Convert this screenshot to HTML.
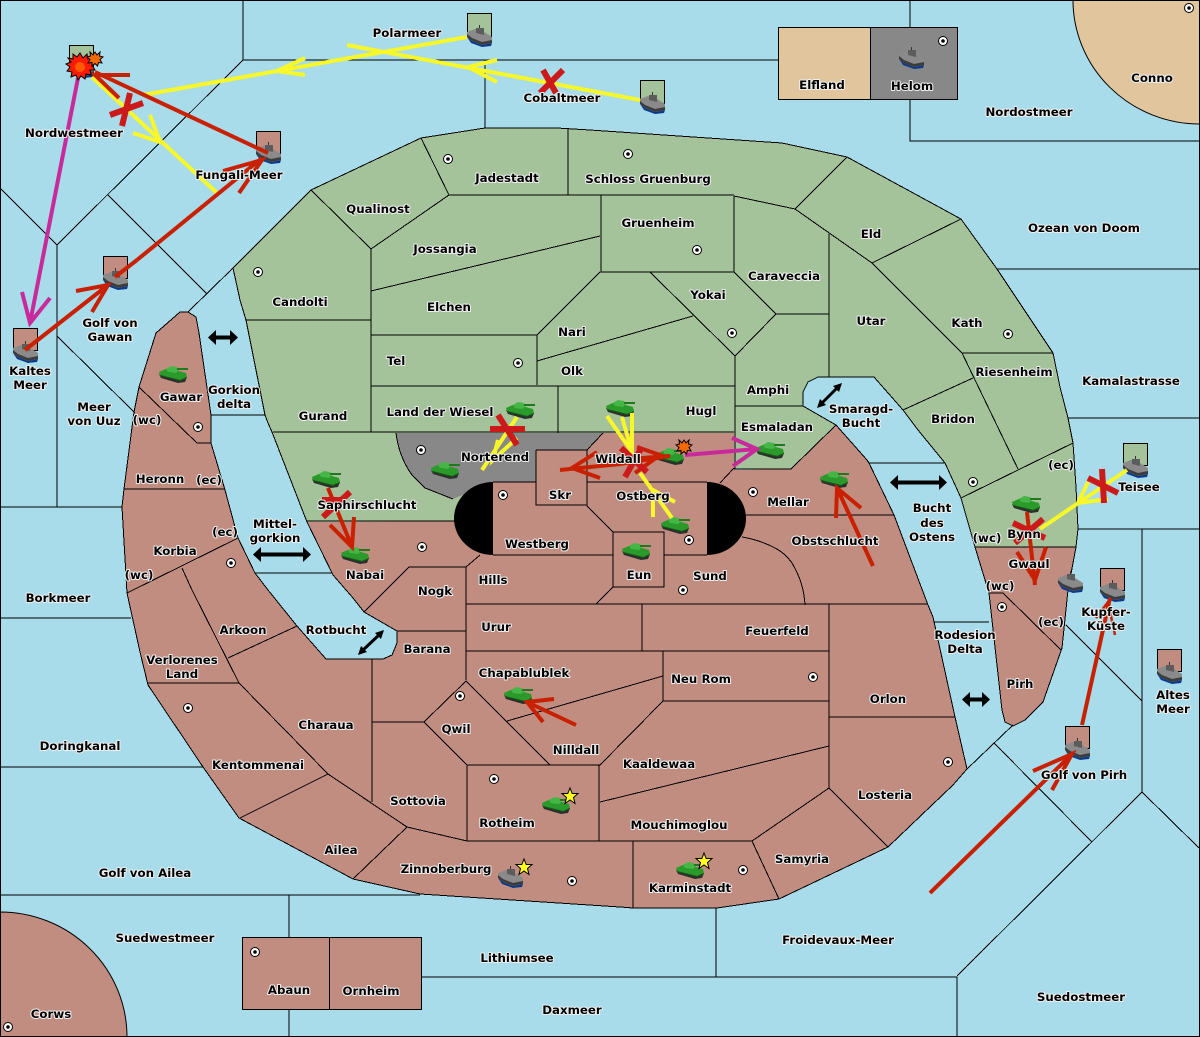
<!DOCTYPE html>
<html><head><meta charset="utf-8"><title>Map</title>
<style>
html,body{margin:0;padding:0;background:#a8dceb}
svg{display:block}
.b{fill:none;stroke:#000;stroke-width:1;shape-rendering:crispEdges}
.o{stroke:#000;stroke-width:1}
text{font-family:"DejaVu Sans","Liberation Sans",sans-serif;font-weight:bold;font-size:11.8px;text-anchor:middle;fill:#000;stroke:#f0f0f0;stroke-width:2px;paint-order:stroke;stroke-linejoin:round}
.y{stroke:#f7f72a;stroke-width:4;fill:none}
.r{stroke:#c82000;stroke-width:4;fill:none}
.m{stroke:#c82a9c;stroke-width:4;fill:none}
.x{stroke:#cc1a1a;stroke-width:6;fill:none}
.a{stroke:#000;stroke-width:3;fill:none}
.h{stroke:#000;stroke-width:4;fill:none}
</style></head><body>
<svg xmlns="http://www.w3.org/2000/svg" width="1200" height="1037" viewBox="0 0 1200 1037">
<defs>
<g id="tank"><path d="M0 8L2 12L19 17L26 16L28 11L21 13Z" fill="#2e2e2e"/><path d="M0 6L9 2L27 7L28 11L21 14L1 9Z" fill="#2a9a2a"/><path d="M7 3L12 0L18 1L20 4L17 7L9 6Z" fill="#45b545"/><path d="M18 2H29V4H18Z" fill="#1f7a1f"/><path d="M1 9L21 14L28 11V12L21 15L1 10Z" fill="#145a14"/></g>
<g id="ship"><path d="M12.500 0V6" stroke="#333" stroke-width="1" fill="none"/><path d="M0 12L5 16L15 20L25 18L24 21L15 22L4 18Z" fill="#0b3a8c"/><path d="M0 7L8 4L14 5L25 12L25 18L15 20L5 16L0 12Z" fill="#8a8a8a"/><path d="M0 9L5 13L15 17L25 15L25 18L15 20L5 16L0 12Z" fill="#3c3c3c"/><path d="M9 3H17V10L9 8Z" fill="#5c5c5c"/></g>
<g id="dot"><circle r="4.5" fill="#fff" stroke="#000" stroke-width="1"/><circle r="1.8" fill="#000"/></g>
<polygon id="star" points="0,-8 2.2,-2.5 8,-2.5 3.5,1.5 5,7.5 0,4 -5,7.5 -3.5,1.5 -8,-2.5 -2.2,-2.5" fill="#ffff20" stroke="#000" stroke-width="1"/>
<polygon id="blast" points="0,-7 2,-4 5,-7 4.5,-3 8,-2 5,0.5 7,4 3.5,3.5 2.5,7 0,4.5 -3,7 -3,3.5 -7,4 -5,0.5 -8,-2 -4.5,-3 -5,-7 -2,-4" fill="#f56a00" stroke="#000" stroke-width="1"/>
</defs>
<rect x="0" y="0" width="1200" height="1037" fill="#a8dceb"/>

<!-- land fills -->
<polygon fill="#c28d81" points="188,312 196,317 199,333 211,415 211,443 225,490 238,538 255,573 268,590 297,626 326,659 383,659 392,655 397,643 397,631 364,612 353,598 333,575 307,522 455,521 493,482 536,482 536,450 587,450 603,433 735,433 735,470 791,469 836,425 867,460 869,463 894,515 928,605 933,617 955,717 967,769 953,785 888,847 779,899 717,908 633,908 620,907 420,894 353,879 239,818 203,767 148,685 140,652 127,593 122,507 124,489 134,412 139,387 156,333 180,312"/>
<polygon fill="#c28d81" points="975,547 1076,547 1068,590 1062,648 1043,702 1025,720 1013,726 1005,722 1002,710 989,593 988,592"/>
<polygon fill="#a4c39a" points="233,268 311,190 421,138 485,128 557,128 590,130 782,143 847,157 961,219 997,269 1053,353 1060,387 1068,418 1073,443 1076,487 1078,529 1076,547 975,547 961,498 945,463 918,430 903,410 874,377 818,377 808,382 803,392 803,406 836,425 791,469 734,469 734,433 603,433 587,450 536,450 536,482 493,482 493,521 307,522 272,432 268,423 265,415 246,320 240,300"/>
<path fill="#888888" d="M396,433H603L587,450H536V482H493L453,499L425,488L412,475Q399,457 396,433Z"/>
<path fill="#e0c59d" stroke="#000" stroke-width="1" d="M1073,0A127,124 0 0 0 1200,124V0Z"/>
<path fill="#c28d81" stroke="#000" stroke-width="1" d="M0,912A127,125 0 0 1 127,1037H0Z"/>
<rect x="778.5" y="27.5" width="92" height="72" class="b" style="fill:#e0c59d"/>
<rect x="870.5" y="27.5" width="87" height="72" class="b" style="fill:#888888"/>
<rect x="242.5" y="937.5" width="87" height="72" class="b" style="fill:#c28d81"/>
<rect x="329.5" y="937.5" width="92" height="72" class="b" style="fill:#c28d81"/>

<!-- borders -->
<g fill="none" stroke="#000" stroke-width="1" shape-rendering="crispEdges">
<polyline points="188,312 196,317 199,333 211,415 211,443 225,490 238,538 255,573 268,590 297,626 326,659 383,659 392,655 397,643 397,631 364,612 353,598 333,575 307,522 272,432 268,423 265,415 246,320 240,300 233,268 311,190 421,138 485,128 557,128 590,130 782,143 847,157 961,219 997,269 1053,353 1060,387 1068,418 1073,443 1076,487 1078,529 1076,547 1068,590 1062,648 1043,702 1025,720 1013,726 1005,722 1002,710 989,593 975,547 961,498 945,463 918,430 903,410 874,377 818,377 808,382 803,392 803,406 836,425 867,460 869,463 894,515 928,605 933,617 955,717 967,769 953,785 888,847 779,899 717,908 633,908 620,907 420,894 353,879 239,818 203,767 148,685 140,652 127,593 122,507 124,489 134,412 139,387 156,333 180,312 188,312"/>
<path d="M396,433Q399,457 412,475L425,488L453,499"/>
<path d="M742,537Q760,540 775,548Q785,553 792,563Q804,583 805,605"/>
<path d="M243,0V60L57,245V507M243,60H778M485,60V128M910,0V27M910,99V141H1200M0,188L57,245M108,195L207,294M233,268L188,312M57,336L135,413M0,507H122M0,618H131M0,767H203M0,895H420M289,895V937M289,1009V1037M422,977H957V1037M957,976L1142,792L1199,848M1142,529V792M1078,529H1200M1066,625L1142,701M1013,725L967,769M994,743L1092,842M716,908V977M997,269H1200M1068,418H1200M211,415H265M255,573H332M869,463H945M934,622H989"/>
<path d="M311,190L371,249L449,195L421,138M449,195H734M568,129V195M734,196L795,209L847,157M795,209L872,263L961,219M872,263L962,353H1053M962,353L1018,469M973,378L903,410M1073,443L961,498M829,234V377M776,314H829M734,196V272L776,314L735,356V469M601,195V272H734M650,272L735,356M537,361L693,316M600,272L537,335H371M537,335V385M371,386H735M558,386V433M371,291L600,236M371,249V432M246,320H371M273,432H734M735,406H803M307,521H455M734,469H791L836,425M603,433L587,450"/>
<path d="M493,482H536M587,482H707M536,450H587V505H536V450M587,506L613,532H664V587H613V532M493,555H613M664,555H707M480,555L466,567V680M409,567H466M409,567L364,612M613,587L596,604M466,604H928M642,604V651M466,651H829M397,631H466M746,515H894M663,651V701H829M663,701L599,766M829,604V788M829,717H955M829,746L600,802M467,765H599V841M467,765V841M467,841H752M752,841L829,788L888,847M752,841L779,899M633,841V908M507,721L663,676M466,681L550,765M466,681L424,722L467,765M372,722H424M372,659V802M239,683L328,774L407,827L467,841M328,774L240,818M407,827L353,879M148,683H239M192,590L239,683M182,568L192,590M127,593L238,538M228,658L297,626M124,489H225M139,387L197,443H211M720,483L734,468M989,593H1003L1061,650M975,547H1076"/>
</g>
<rect x="0.5" y="0.5" width="1199" height="1036" fill="none" stroke="#000" stroke-width="1"/>

<!-- black ovals -->
<path d="M493,482A39,36.5 0 0 0 493,555Z" fill="#000"/>
<path d="M707,482A39,36.5 0 0 1 707,555Z" fill="#000"/>

<!-- flag boxes -->
<g stroke="#000" stroke-width="1">
<rect x="69.5" y="45.5" width="24" height="22" fill="#a4c39a"/>
<rect x="467.5" y="13.5" width="24" height="23" fill="#a4c39a"/>
<rect x="640.5" y="80.5" width="24" height="23" fill="#a4c39a"/>
<rect x="256.5" y="131.5" width="24" height="22" fill="#c28d81"/>
<rect x="103.5" y="256.5" width="24" height="22" fill="#c28d81"/>
<rect x="13.5" y="328.5" width="24" height="22" fill="#c28d81"/>
<rect x="1123.5" y="443.5" width="24" height="22" fill="#a4c39a"/>
<rect x="1100.5" y="568.5" width="24" height="22" fill="#c28d81"/>
<rect x="1157.5" y="649.5" width="24" height="22" fill="#c28d81"/>
<rect x="1065.5" y="726.5" width="24" height="22" fill="#c28d81"/>
</g>

<!-- dots -->
<use href="#dot" x="448" y="159"/><use href="#dot" x="628" y="154"/><use href="#dot" x="258" y="272"/><use href="#dot" x="697" y="250"/><use href="#dot" x="732" y="333"/><use href="#dot" x="1008" y="334"/><use href="#dot" x="518" y="363"/><use href="#dot" x="973" y="482"/><use href="#dot" x="421" y="450"/><use href="#dot" x="503" y="495"/><use href="#dot" x="753" y="492"/><use href="#dot" x="689" y="540"/><use href="#dot" x="683" y="590"/><use href="#dot" x="422" y="547"/><use href="#dot" x="198" y="427"/><use href="#dot" x="231" y="563"/><use href="#dot" x="188" y="708"/><use href="#dot" x="460" y="696"/><use href="#dot" x="494" y="779"/><use href="#dot" x="572" y="881"/><use href="#dot" x="743" y="870"/><use href="#dot" x="813" y="677"/><use href="#dot" x="948" y="762"/><use href="#dot" x="1002" y="607"/><use href="#dot" x="943" y="41"/><use href="#dot" x="1189" y="8"/><use href="#dot" x="8" y="1027"/><use href="#dot" x="255" y="952"/>

<!-- units -->
<use href="#ship" x="69" y="56"/><use href="#ship" x="467" y="25"/><use href="#ship" x="640" y="92"/><use href="#ship" x="256" y="142"/><use href="#ship" x="103" y="268"/><use href="#ship" x="13" y="341"/><use href="#ship" x="1123" y="456"/><use href="#ship" x="1100" y="580"/><use href="#ship" x="1157" y="662"/><use href="#ship" x="1065" y="738"/><use href="#ship" x="1058" y="571"/><use href="#ship" x="899" y="47"/><use href="#ship" x="498" y="866"/>
<use href="#tank" x="159" y="366"/><use href="#tank" x="341" y="547"/><use href="#tank" x="312" y="471"/><use href="#tank" x="506" y="402"/><use href="#tank" x="431" y="462"/><use href="#tank" x="606" y="400"/><use href="#tank" x="656" y="448"/><use href="#tank" x="756" y="442"/><use href="#tank" x="661" y="517"/><use href="#tank" x="622" y="543"/><use href="#tank" x="820" y="471"/><use href="#tank" x="1012" y="496"/><use href="#tank" x="504" y="687"/><use href="#tank" x="542" y="797"/><use href="#tank" x="676" y="862"/>
<use href="#star" x="570" y="796"/><use href="#star" x="704" y="861"/><use href="#star" x="524" y="867"/>

<!-- yellow moves -->
<g class="y">
<path d="M467,37L143,95M305,58L277,71L305,75"/>
<path d="M640,100L347,45M497,60L468,67L497,82"/>
<path d="M92,77L217,193M150,115L160,142L133,133"/>
<path d="M517,417L482,470M498,440L493,460L517,438"/>
<path d="M622,417L632,452M607,416L632,452L632,413"/>
<path d="M672,518L640,473M675,502L653,490L653,517"/>
<path d="M1127,470L1040,529M1088,482L1078,503L1108,499"/>
</g>
<!-- magenta moves -->
<g class="m">
<path d="M78,78L30,323M22,292L30,323L50,298"/>
<path d="M685,455L757,449M732,438L757,449L733,466"/>
</g>
<!-- red moves -->
<g class="r">
<path d="M268,153L95,72M130,75L95,75L119,98"/>
<path d="M137,260L262,158M223,171L262,160L239,193"/>
<path d="M25,350L108,285M76,291L108,285L92,312"/>
<path d="M137,260L115,277"/>
<path d="M328,488L352,547M354,517L352,547L330,525"/>
<path d="M873,566L837,488M836,518L837,488L861,508"/>
<path d="M576,725L527,702M554,699L527,702L543,722"/>
<path d="M1027,512L1035,585M1017,552L1035,580L1046,547"/>
<path d="M930,893L1072,754M1033,771L1072,754L1052,790"/>
<path d="M1082,725L1110,598"/>
<path d="M670,456L620,464L560,470M597,452L572,468L600,478"/>
<path d="M613,460L670,456M637,447L660,455L635,473"/>
</g>
<path d="M1096,618L1108,602L1115,635" stroke="#c82000" stroke-width="2.5" fill="none"/>
<!-- cancelled -->
<g class="x">
<path d="M110,115L143,103M130,93L122,126"/>
<path d="M540,93L563,70M543,70L556,93"/>
<path d="M490,429H525M498,415L517,445"/>
<path d="M323,517L350,492M322,500H343"/>
<path d="M1102,469L1104,503M1088,478L1118,493"/>
<path d="M1013,523L1045,538M1043,519L1015,543"/>
<path d="M625,477L642,447M621,448L647,472"/>
</g>
<!-- blasts -->
<polygon fill="#ff1a00" stroke="#000" stroke-width="1" points="80,53 83,58 87,54 88,59 93,56 91,61 96,62 92,65 95,70 90,70 91,75 86,74 85,79 81,76 78,80 76,75 71,77 72,72 67,71 70,67 66,64 71,62 68,58 73,59 73,54 77,57"/>
<circle cx="80" cy="67" r="5" fill="#ff5a00"/>
<use href="#blast" x="95" y="59"/><use href="#blast" x="684" y="447"/>

<!-- double arrows -->
<g class="h">
<path d="M212,337.500H234"/><path d="M257,554.500H307"/><path d="M894,482.500H943"/><path d="M966,699.500H986"/>
</g>
<g class="a"><path d="M362,651L380,634"/><path d="M821,404L838,387"/></g>
<g fill="#000">
<path d="M208,337.500L216,330V345Z"/><path d="M238,337.500L230,330V345Z"/>
<path d="M253,554.500L261,547V562Z"/><path d="M311,554.500L303,547V562Z"/>
<path d="M890,482.500L898,475V490Z"/><path d="M947,482.500L939,475V490Z"/>
<path d="M962,699.500L970,692V707Z"/><path d="M990,699.500L982,692V707Z"/>
<path d="M358,655L367,652L361,646Z"/><path d="M384,630L375,633L381,639Z"/>
<path d="M817,408L826,405L820,399Z"/><path d="M842,383L833,386L839,392Z"/>
</g>

<!-- labels -->
<g>
<text x="407" y="37">Polarmeer</text><text x="562" y="102">Cobaltmeer</text><text x="822" y="89">Elfland</text><text x="912" y="90">Helom</text><text x="1152" y="82">Conno</text><text x="1029" y="116">Nordostmeer</text><text x="74" y="137">Nordwestmeer</text><text x="239" y="179">Fungali-Meer</text><text x="507" y="182">Jadestadt</text><text x="648" y="183">Schloss Gruenburg</text><text x="378" y="213">Qualinost</text><text x="658" y="227">Gruenheim</text><text x="871" y="238">Eld</text><text x="1084" y="232">Ozean von Doom</text><text x="445" y="253">Jossangia</text><text x="784" y="280">Caraveccia</text><text x="708" y="299">Yokai</text><text x="300" y="306">Candolti</text><text x="449" y="311">Elchen</text><text x="871" y="325">Utar</text><text x="967" y="327">Kath</text><text x="572" y="336">Nari</text><text x="110" y="327">Golf von</text><text x="110" y="341">Gawan</text><text x="396" y="365">Tel</text><text x="572" y="375">Olk</text><text x="30" y="375">Kaltes</text><text x="30" y="389">Meer</text><text x="1014" y="376">Riesenheim</text><text x="1131" y="385">Kamalastrasse</text><text x="768" y="394">Amphi</text><text x="234" y="394">Gorkion</text><text x="234" y="408">delta</text><text x="181" y="401">Gawar</text><text x="94" y="411">Meer</text><text x="94" y="425">von Uuz</text><text x="147" y="424">(wc)</text><text x="440" y="416">Land der Wiesel</text><text x="701" y="415">Hugl</text><text x="323" y="420">Gurand</text><text x="953" y="423">Bridon</text><text x="861" y="413">Smaragd-</text><text x="861" y="427">Bucht</text><text x="777" y="431">Esmaladan</text><text x="495" y="461">Norterend</text><text x="618" y="463">Wildall</text><text x="1061" y="469">(ec)</text><text x="160" y="483">Heronn</text><text x="209" y="484">(ec)</text><text x="1139" y="491">Teisee</text><text x="643" y="500">Ostberg</text><text x="560" y="499">Skr</text><text x="788" y="506">Mellar</text><text x="367" y="509">Saphirschlucht</text><text x="932" y="512">Bucht</text><text x="932" y="527">des</text><text x="932" y="541">Ostens</text><text x="275" y="528">Mittel-</text><text x="275" y="542">gorkion</text><text x="225" y="536">(ec)</text><text x="1024" y="538">Bynn</text><text x="987" y="542">(wc)</text><text x="835" y="545">Obstschlucht</text><text x="537" y="548">Westberg</text><text x="175" y="555">Korbia</text><text x="1029" y="568">Gwaul</text><text x="365" y="579">Nabai</text><text x="639" y="579">Eun</text><text x="710" y="580">Sund</text><text x="139" y="579">(wc)</text><text x="493" y="584">Hills</text><text x="1000" y="590">(wc)</text><text x="435" y="595">Nogk</text><text x="58" y="602">Borkmeer</text><text x="1106" y="616">Kupfer-</text><text x="1106" y="630">Küste</text><text x="1051" y="626">(ec)</text><text x="496" y="631">Urur</text><text x="777" y="635">Feuerfeld</text><text x="243" y="634">Arkoon</text><text x="336" y="634">Rotbucht</text><text x="965" y="639">Rodesion</text><text x="965" y="653">Delta</text><text x="427" y="653">Barana</text><text x="182" y="664">Verlorenes</text><text x="182" y="678">Land</text><text x="524" y="677">Chapablublek</text><text x="701" y="683">Neu Rom</text><text x="1020" y="688">Pirh</text><text x="1173" y="699">Altes</text><text x="1173" y="713">Meer</text><text x="888" y="703">Orlon</text><text x="326" y="729">Charaua</text><text x="456" y="733">Qwil</text><text x="80" y="750">Doringkanal</text><text x="576" y="754">Nilldall</text><text x="659" y="768">Kaaldewaa</text><text x="258" y="769">Kentommenai</text><text x="1084" y="779">Golf von Pirh</text><text x="885" y="799">Losteria</text><text x="418" y="805">Sottovia</text><text x="679" y="829">Mouchimoglou</text><text x="507" y="827">Rotheim</text><text x="341" y="854">Ailea</text><text x="802" y="863">Samyria</text><text x="446" y="873">Zinnoberburg</text><text x="145" y="877">Golf von Ailea</text><text x="690" y="892">Karminstadt</text><text x="165" y="942">Suedwestmeer</text><text x="838" y="944">Froidevaux-Meer</text><text x="517" y="962">Lithiumsee</text><text x="289" y="994">Abaun</text><text x="371" y="995">Ornheim</text><text x="1081" y="1001">Suedostmeer</text><text x="572" y="1014">Daxmeer</text><text x="51" y="1018">Corws</text>
</g>
</svg>
</body></html>
